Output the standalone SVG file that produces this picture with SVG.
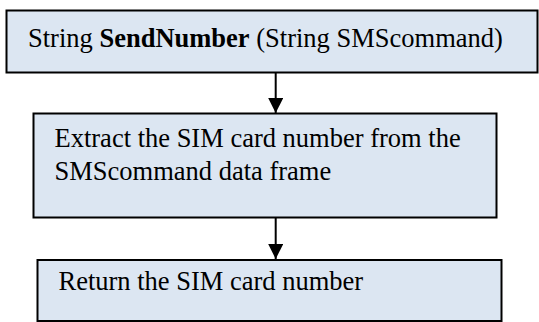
<svg xmlns="http://www.w3.org/2000/svg" width="539" height="322" viewBox="0 0 539 322">
<style>
.box{fill:#DCE6F2;stroke:#000;stroke-width:2}
.t{font-family:"Liberation Serif","Times New Roman",serif;font-size:26.5px;fill:#000}
.b{font-weight:bold}
.c{stroke:#000;stroke-width:2;fill:none}
</style>
<defs>
<marker id="ah" markerWidth="15" markerHeight="15" viewBox="0 0 15 15" refX="15" refY="7.5" orient="auto" markerUnits="userSpaceOnUse">
<path d="M0,0 L15,7.5 L0,15 Z" fill="#000"/>
</marker>
</defs>
<rect width="539" height="322" fill="#fff"/>
<g id="connectors">
<line class="c" x1="275.7" y1="73" x2="275.7" y2="113" marker-end="url(#ah)"/>
<line class="c" x1="275.7" y1="218" x2="275.7" y2="259" marker-end="url(#ah)"/>
</g>
<g id="node1">
<rect class="box" x="6.5" y="10.5" width="531" height="62"/>
<text class="t" x="28" y="46.5">String <tspan class="b">SendNumber</tspan> (String SMScommand)</text>
</g>
<g id="node2">
<rect class="box" x="33.5" y="113.5" width="463" height="104"/>
<text class="t" x="54.5" y="147">Extract the SIM card number from the</text>
<text class="t" x="54.5" y="180">SMScommand data frame</text>
</g>
<g id="node3">
<rect class="box" x="37.5" y="260" width="464" height="61"/>
<text class="t" x="58.5" y="290">Return the SIM card number</text>
</g>
</svg>
